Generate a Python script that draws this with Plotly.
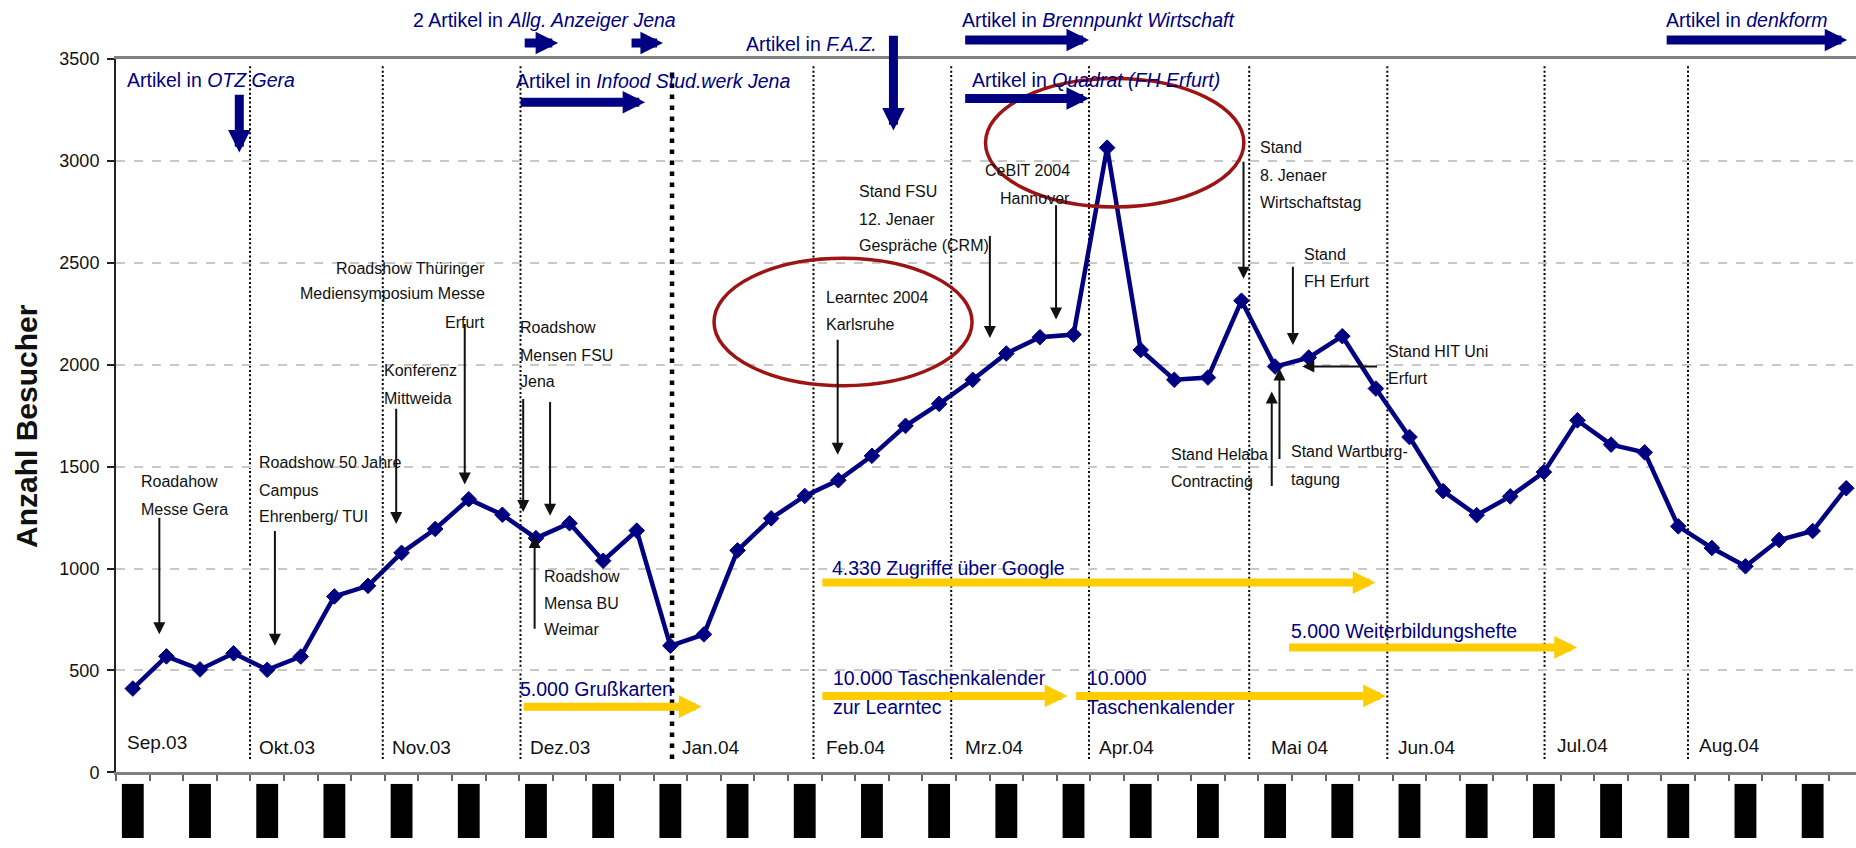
import plotly.graph_objects as go

# ---------------- data ----------------
week_index = list(range(52))  # weekly values, Sep 2003 - Aug 2004
visitors = [411, 569, 505, 584, 503, 568, 863, 915, 1077, 1194, 1340, 1264, 1149, 1222,
            1038, 1186, 621, 677, 1089, 1246, 1356, 1433, 1553, 1700, 1808, 1926, 2055,
            2135, 2148, 3065, 2072, 1926, 1937, 2314, 1991, 2035, 2140, 1883, 1645, 1380,
            1262, 1354, 1473, 1727, 1608, 1570, 1207, 1101, 1011, 1140, 1184, 1394]
y_tick_values = [0, 500, 1000, 1500, 2000, 2500, 3000, 3500]
Y_MAX = 3500

month_labels = ["Sep.03", "Okt.03", "Nov.03", "Dez.03", "Jan.04", "Feb.04",
                "Mrz.04", "Apr.04", "Mai 04", "Jun.04", "Jul.04", "Aug.04"]
month_boundary_weeks = [3.49, 7.44, 11.54, 16.05, 20.26, 24.36, 28.46, 33.23, 37.34, 42.02, 46.29]
year_change_week = 16.05

# garbled date labels under the axis (every second week)
date_block_weeks = week_index[::2]
date_block_heights = [1] * len(date_block_weeks)

# ---------------- annotation specs ----------------
month_label_pos = [(-0.24, 144), (3.70, 120), (7.65, 120), (11.76, 120), (16.29, 120),
                   (20.57, 120), (24.70, 120), (28.69, 120), (33.81, 121), (37.61, 121),
                   (42.32, 130), (46.55, 130)]

events = [
    (["Roadahow", "Messe Gera"], 0.18, [1428, 1291], "left"),
    (["Roadshow 50 Jahre", "Campus", "Ehrenberg/ TUI"], 3.70, [1522, 1385, 1254], "left"),
    (["Roadshow Thüringer", "Mediensymposium Messe", "Erfurt"], 10.55, [2474, 2348, 2207], "right"),
    (["Konferenz", "Mittweida"], 7.41, [1970, 1836], "left"),
    (["Roadshow", "Mensen FSU", "Jena"], 11.47, [2184, 2047, 1916], "left"),
    (["Roadshow", "Mensa BU", "Weimar"], 12.17, [963, 828, 700], "left"),
    (["Learntec 2004", "Karlsruhe"], 20.57, [2330, 2199], "left"),
    (["Stand FSU", "12. Jenaer", "Gespräche (CRM)"], 21.56, [2852, 2713, 2585], "left"),
    (["CeBIT 2004", "Hannover"], 27.96, [2955, 2818], "right"),
    (["Stand", "8. Jenaer", "Wirtschaftstag"], 33.48, [3065, 2929, 2798], "left"),
    (["Stand", "FH Erfurt"], 34.81, [2543, 2409], "left"),
    (["Stand HIT Uni", "Erfurt"], 37.30, [2065, 1933], "left"),
    (["Stand Helaba", "Contracting"], 30.84, [1558, 1428], "left"),
    (["Stand Wartburg-", "tagung"], 34.40, [1573, 1438], "left"),
]
event_arrows = [
    (0.79, 1252, 0.79, 677), (4.23, 1186, 4.23, 621), (7.84, 1786, 7.84, 1219),
    (9.88, 2202, 9.88, 1412), (11.62, 1834, 11.62, 1277), (12.42, 1820, 12.42, 1259),
    (11.96, 702, 11.96, 1160), (20.98, 2125, 20.98, 1558), (25.51, 2634, 25.51, 2131),
    (27.48, 2785, 27.48, 2222), (33.06, 2998, 33.06, 2422), (34.53, 2483, 34.53, 2097),
    (37.05, 1991, 34.81, 1991), (33.90, 1403, 33.90, 1868), (34.13, 1535, 34.13, 1982),
]
press = [
    ("2 Artikel in <i>Allg. Anzeiger Jena</i>", 8.29, 3692),
    ("Artikel in <i>Infood Stud.werk Jena</i>", 11.35, 3391),
    ("Artikel in <i>OTZ Gera</i>", -0.24, 3396),
    ("Artikel in <i>F.A.Z.</i>", 18.19, 3572),
    ("Artikel in <i>Brennpunkt Wirtschaft</i>", 24.62, 3693),
    ("Artikel in <i>Quadrat (FH Erfurt)</i>", 24.93, 3399),
    ("Artikel in <i>denkform</i>", 45.57, 3693),
]
press_arrows = [
    (11.65, 3578, 12.66, 3578), (14.83, 3578, 15.78, 3578), (11.53, 3288, 15.25, 3288),
    (3.17, 3327, 3.17, 3041), (22.64, 3617, 22.64, 3149), (24.76, 3593, 28.46, 3593),
    (24.76, 3306, 28.46, 3306), (45.64, 3593, 51.03, 3593),
]
promo = [
    (["5.000 Grußkarten"], 11.47, [411]),
    (["4.330 Zugriffe über Google"], 20.74, [1005]),
    (["10.000 Taschenkalender", "zur Learntec"], 20.77, [464, 322]),
    (["10.000", "Taschenkalender"], 28.34, [464, 322]),
    (["5.000 Weiterbildungshefte"], 34.40, [692]),
]
promo_arrows = [
    (11.62, 322, 16.93, 322), (20.51, 931, 36.99, 931), (20.51, 375, 27.82, 375),
    (28.06, 375, 37.30, 375), (34.40, 613, 42.99, 613),
]
highlight_ellipses = [(17.30, 1897, 24.98, 2522), (25.38, 2774, 33.07, 3404)]

# ---------------- styles ----------------
NAVY = "#000080"
GOLD = "#FFCC00"
RED = "#9C1414"
TXT = "#111111"
SANS = "Liberation Sans, Arial, sans-serif"

fig = go.Figure()
fig.add_trace(go.Scatter(
    x=week_index, y=visitors, mode="lines+markers",
    line=dict(color=NAVY, width=4.5),
    marker=dict(symbol="diamond", size=12, color=NAVY, line=dict(color=NAVY, width=1)),
    xaxis="x", yaxis="y", showlegend=False, cliponaxis=False, hoverinfo="skip"))
fig.add_trace(go.Bar(
    x=date_block_weeks, y=date_block_heights, width=0.65, marker=dict(color="black", line=dict(width=0)),
    xaxis="x2", yaxis="y2", showlegend=False, hoverinfo="skip"))


def dom(v):
    # value -> fraction of the main y-axis domain (works beyond the axis range)
    return v / Y_MAX


annotations = []
for text, (mx, my) in zip(month_labels, month_label_pos):
    annotations.append(dict(x=mx, y=my, xref="x", yref="y", text=text, showarrow=False,
                            xanchor="left", yanchor="middle",
                            font=dict(family=SANS, size=19, color=TXT)))
for lines, ex, ys, anchor in events:
    for line, ly in zip(lines, ys):
        annotations.append(dict(x=ex, y=ly, xref="x", yref="y", text=line, showarrow=False,
                                xanchor=anchor, yanchor="middle",
                                font=dict(family=SANS, size=16, color=TXT)))
for text, px_, py_ in press:
    annotations.append(dict(x=px_, y=dom(py_), xref="x", yref="y domain", text=text, showarrow=False,
                            xanchor="left", yanchor="middle",
                            font=dict(family=SANS, size=19.5, color=NAVY)))
for lines, tx, ys in promo:
    for line, ly in zip(lines, ys):
        annotations.append(dict(x=tx, y=ly, xref="x", yref="y", text=line, showarrow=False,
                                xanchor="left", yanchor="middle",
                                font=dict(family=SANS, size=19.5, color=NAVY)))


def arrow(x0, y0, x1, y1, color, width, size):
    return dict(x=x1, y=dom(y1), ax=x0, ay=dom(y0), xref="x", yref="y domain",
                axref="x", ayref="y domain",
                text="", showarrow=True, arrowhead=2, arrowsize=size, arrowwidth=width,
                arrowcolor=color, font=dict(size=1), borderpad=0)


for a in event_arrows:
    annotations.append(arrow(*a, "#111111", 2, 1.2))
for a in press_arrows:
    annotations.append(arrow(*a, NAVY, 9, 0.5))
for a in promo_arrows:
    annotations.append(arrow(*a, GOLD, 8, 0.57))

annotations.append(dict(x=-0.0511, y=0.529, xref="paper", yref="paper", text="<b>Anzahl Besucher</b>",
                        showarrow=False, textangle=-90, xanchor="center", yanchor="middle",
                        font=dict(family=SANS, size=30, color=TXT)))

shapes = []
for b in month_boundary_weeks:
    thick = b == year_change_week
    shapes.append(dict(type="line", xref="x", yref="y", x0=b, x1=b,
                       y0=65, y1=3448 if thick else 3472, layer="below",
                       line=dict(color="black", width=4.5 if thick else 2,
                                 dash="4.5px,6.5px" if thick else "2px,2.4px")))
for x0, y0, x1, y1 in highlight_ellipses:
    shapes.append(dict(type="circle", xref="x", yref="y", x0=x0, x1=x1, y0=y0, y1=y1,
                       line=dict(color=RED, width=3.5), layer="above"))

fig.update_layout(
    width=1856, height=848, autosize=False,
    margin=dict(l=116, r=0, t=59, b=0),
    paper_bgcolor="white", plot_bgcolor="white",
    xaxis=dict(domain=[0, 1], range=[-0.5, 51.29], anchor="y",
               tickmode="linear", tick0=-0.5, dtick=1, ticks="outside", ticklen=6,
               tickcolor="#666666", tickwidth=1.5, showticklabels=False,
               showgrid=False, zeroline=False, showline=True, linecolor="#808080",
               linewidth=3, mirror=True),
    yaxis=dict(domain=[0.0843, 1], range=[0, Y_MAX], anchor="x", tickvals=y_tick_values,
               ticks="outside", ticklen=7, tickcolor="#222222", tickwidth=1.5,
               tickfont=dict(family=SANS, size=18, color=TXT), ticklabelstandoff=4,
               showgrid=True, gridcolor="#c8c8c8", griddash="dash", gridwidth=1.5,
               zeroline=False, showline=True, linecolor="#222222", linewidth=2),
    xaxis2=dict(domain=[0, 1], range=[-0.5, 51.29], anchor="y2", visible=False),
    yaxis2=dict(domain=[0, 0.0697], range=[0, 1], anchor="x2", visible=False),
    annotations=annotations, shapes=shapes, showlegend=False,
)

fig.write_html("out.html", config={"displayModeBar": False},
               post_script="document.body.style.margin='0';document.body.style.overflow='hidden';")
